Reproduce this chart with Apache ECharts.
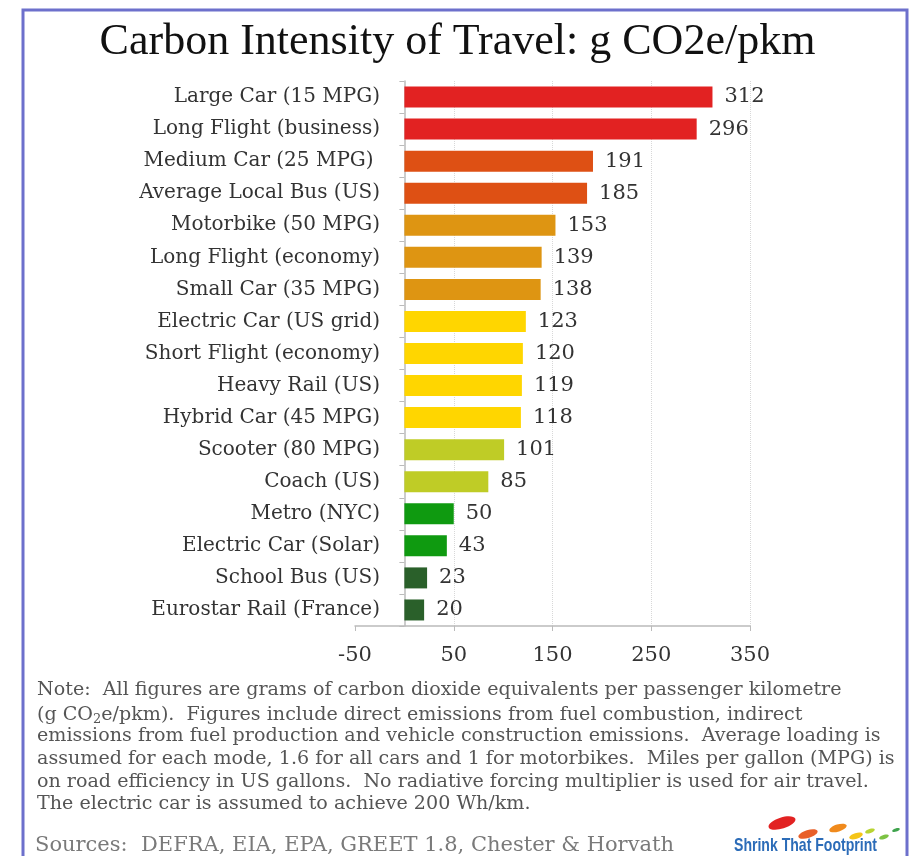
<!DOCTYPE html>
<html>
<head>
<meta charset="utf-8">
<script src="https://cdn.jsdelivr.net/npm/echarts@6/dist/echarts.min.js"></script>
<style>
html, body { margin: 0; padding: 0; background: #fff; }
#travelChart { width: 915px; height: 856px; }
</style>
</head>
<body>
<div id="travelChart"></div>
<script>
var travelChart = echarts.init(document.getElementById('travelChart'));

let modes = ['Large Car (15 MPG)', 'Long Flight (business)', 'Medium Car (25 MPG) ', 'Average Local Bus (US)',
    'Motorbike (50 MPG)', 'Long Flight (economy)', 'Small Car (35 MPG)', 'Electric Car (US grid)',
    'Short Flight (economy)', 'Heavy Rail (US)', 'Hybrid Car (45 MPG)', 'Scooter (80 MPG)',
    'Coach (US)', 'Metro (NYC)', 'Electric Car (Solar)', 'School Bus (US)', 'Eurostar Rail (France)'];
let emissions = [312, 296, 191, 185, 153, 139, 138, 123, 120, 119, 118, 101, 85, 50, 43, 23, 20];
// colour band of each bar, index into bandColors
let bands = [0, 0, 1, 1, 2, 2, 2, 3, 3, 3, 3, 4, 4, 5, 5, 6, 6];
let bandColors = ['#E22222', '#DE5014', '#DE9512', '#FFD600', '#BFCC26', '#0F9A10', '#2A602A'];
let axisTicks = [-50, 50, 150, 250, 350];

let noteLines = [
    '{t|Note:  All figures are grams of carbon dioxide equivalents per passenger kilometre}',
    '{t|(g CO}{s|2}{t|e/pkm).  Figures include direct emissions from fuel combustion, indirect}',
    '{t|emissions from fuel production and vehicle construction emissions.  Average loading is}',
    '{t|assumed for each mode, 1.6 for all cars and 1 for motorbikes.  Miles per gallon (MPG) is}',
    '{t|on road efficiency in US gallons.  No radiative forcing multiplier is used for air travel.}',
    '{t|The electric car is assumed to achieve 200 Wh/km.}'
];
let sources = 'Sources:  DEFRA, EIA, EPA, GREET 1.8, Chester & Horvath';

let serif = '"DejaVu Serif", serif';
let titleSerif = '"Liberation Serif", serif';
let sans = '"Liberation Sans", sans-serif';

let graphics = [{
    type: 'rect',
    shape: { x: 23, y: 10, width: 884, height: 900 },
    style: { fill: 'none', stroke: '#6D70CC', lineWidth: 3 },
    silent: true
}];
noteLines.forEach(function (line, i) {
    graphics.push({
        type: 'text',
        x: 37,
        y: 681 + i * 22.8,
        style: {
            text: line,
            rich: {
                t: { fontFamily: serif, fontSize: 19.1, fill: '#555' },
                s: { fontFamily: serif, fontSize: 13, fill: '#555', padding: [9, 0, 0, 0] }
            }
        }
    });
});
graphics.push({
    type: 'text', x: 35, y: 835,
    style: { text: sources, fontFamily: serif, fontSize: 21, fill: '#7A7A7A' }
});
// little footprint logo
let feet = [[782, 823, 14, '#E22222'], [808, 834, 10, '#E8602A'], [838, 828, 9, '#F08A1C'],
    [856, 836, 7, '#F5C518'], [870, 831, 5, '#B8D431'], [884, 837, 5, '#7CC243'], [896, 830, 4, '#3FA34D']];
feet.forEach(function (f) {
    graphics.push({
        type: 'ellipse',
        shape: { cx: f[0], cy: f[1], rx: f[2], ry: f[2] * 0.4 },
        rotation: 0.3,
        originX: f[0], originY: f[1],
        style: { fill: f[3] }
    });
});
graphics.push({
    type: 'text', x: 734, y: 836, scaleX: 0.74,
    style: { text: 'Shrink That Footprint', fontFamily: sans, fontWeight: 'bold', fontSize: 19, fill: '#2C6CB8' }
});

option = {
    backgroundColor: '#fff',
    animation: false,
    title: {
        text: 'Carbon Intensity of Travel: g CO2e/pkm',
        left: 'center',
        top: 15,
        textStyle: { fontFamily: titleSerif, fontSize: 44, fontWeight: 'normal', color: '#111' }
    },
    grid: { left: 355, right: 165, top: 81, bottom: 230 },
    xAxis: {
        type: 'value',
        min: axisTicks[0],
        max: axisTicks[axisTicks.length - 1],
        interval: 100,
        axisLine: { show: true, lineStyle: { color: '#BBBBBB', width: 1.5 } },
        axisTick: { show: true, length: 5, lineStyle: { color: '#BBBBBB' } },
        axisLabel: { fontFamily: serif, fontSize: 21, color: '#333', margin: 19 },
        splitLine: { show: true, showMinLine: false, lineStyle: { type: 'dotted', color: '#D8D8D8' } }
    },
    yAxis: {
        type: 'category',
        inverse: true,
        data: modes,
        axisLine: { show: true, onZero: true, lineStyle: { color: '#BBBBBB', width: 1.5 } },
        axisTick: { show: true, length: 5, lineStyle: { color: '#BBBBBB' } },
        axisLabel: { fontFamily: serif, fontSize: 20, color: '#333', margin: -25 }
    },
    series: [{
        type: 'bar',
        barWidth: 21,
        data: emissions.map(function (v, i) {
            return { value: v, itemStyle: { color: bandColors[bands[i]] } };
        }),
        label: {
            show: true,
            position: 'right',
            distance: 12,
            fontFamily: serif,
            fontSize: 21,
            color: '#333'
        }
    }],
    graphic: graphics
};
travelChart.setOption(option);
</script>
</body>
</html>
